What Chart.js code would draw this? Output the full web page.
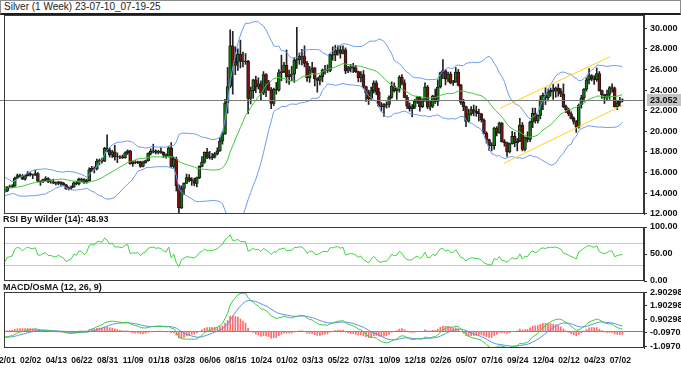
<!DOCTYPE html>
<html lang="en">
<head>
<meta charset="UTF-8">
<title>Silver (1 Week)</title>
<script src="https://cdn.jsdelivr.net/npm/chart.js@4.4.1/dist/chart.umd.min.js"></script>
<style>
    body { margin: 0; background: #fff; }
    #wrap { position: relative; width: 681px; height: 385px; overflow: hidden; background: #fff; }
    #head { position: absolute; left: 0; top: 0; width: 681px; height: 15px; box-sizing: border-box;
            border: 1px solid #8c8c8c; border-bottom: 2px solid #1e1e1e;
            font: 10px "Liberation Sans Narrow", "Liberation Sans", Arial, sans-serif; color: #222;
            line-height: 12px; padding-left: 3px; white-space: nowrap; }
    .lbl { position: absolute; left: 3px; font: bold 9px "Liberation Sans", Arial, sans-serif; color: #111;
           z-index: 2; white-space: nowrap; }
    canvas { position: absolute; left: 0; }
</style>
</head>
<body>
<div id="wrap">
    <div id="head">Silver (1 Week) 23-07-10_07-19-25</div>
    <canvas id="price" width="681" height="208" style="top:14px"></canvas>
    <div class="lbl" style="top:214px">RSI By Wilder (14): 48.93</div>
    <canvas id="rsi" width="681" height="66" style="top:222px"></canvas>
    <div class="lbl" style="top:282px">MACD/OsMA (12, 26, 9)</div>
    <canvas id="macd" width="681" height="98" style="top:287px"></canvas>
</div>

<script>
    // weekly candles, first one is the week of 2018-11-19, last one 2023-07-10
    var open = [
        14.40,14.20,14.18,14.55,14.62,14.70,15.45,15.70,15.62,15.35,
        15.70,15.90,15.80,15.75,15.90,15.15,15.12,15.30,15.40,15.10,
        15.10,15.00,14.95,15.10,14.95,14.80,14.40,14.50,14.60,15.00,
        14.90,15.35,15.30,15.00,15.20,16.25,16.40,16.35,17.10,17.20,
        17.10,18.35,18.15,17.70,18.00,17.50,17.55,17.50,17.45,17.90,
        18.10,16.85,17.00,16.95,17.05,16.60,16.95,17.15,17.85,18.05,
        18.10,17.95,18.05,17.95,17.70,17.55,18.40,16.60,17.30,14.70,
        12.55,14.45,14.95,15.50,15.30,15.20,14.95,15.50,16.60,17.00,
        17.95,17.50,17.45,17.55,17.80,18.10,19.05,19.75,22.75,24.35,
        28.30,26.40,26.70,27.50,26.85,26.75,26.80,23.20,23.95,25.00,
        24.30,24.60,23.70,25.50,24.75,24.00,22.70,24.10,24.00,25.70,
        25.80,26.40,25.30,25.50,25.55,26.90,26.95,27.30,27.25,26.60,
        25.20,25.95,26.15,25.10,24.95,25.30,25.95,26.00,25.90,27.45,
        27.40,27.80,27.90,27.55,27.90,25.85,26.10,26.25,26.15,25.80,
        25.20,25.50,24.35,23.75,23.15,23.95,24.70,23.80,22.45,22.40,
        22.65,22.60,23.30,24.40,23.95,24.10,25.25,24.70,23.30,22.45,
        22.20,22.35,22.90,23.30,22.40,22.95,24.30,22.35,22.45,23.45,
        22.90,24.30,25.70,25.90,25.05,25.55,24.70,24.80,25.75,24.45,
        22.80,22.40,20.95,21.70,22.10,21.95,21.80,21.70,21.10,19.80,
        19.20,18.65,18.60,20.30,19.85,20.80,19.00,18.90,18.00,18.80,
        19.50,18.90,19.05,20.60,18.25,19.40,19.20,20.90,21.75,21.00,
        21.55,23.05,23.50,23.25,23.80,24.00,23.90,24.20,23.90,23.60,
        22.40,22.10,21.70,21.25,20.95,20.40,22.55,23.25,24.10,25.00,
        25.40,25.10,25.00,25.60,23.95,23.55,23.30,23.60,24.25,24.15,
        22.40,22.75,22.95
    ];
    var high = [
        14.48,14.40,14.65,14.78,14.82,15.55,15.85,15.85,15.80,15.75,
        16.10,16.00,15.85,16.20,16.00,15.20,15.35,15.60,15.50,15.30,
        15.35,15.10,15.15,15.10,15.05,14.85,14.60,14.70,15.10,15.15,
        15.45,15.45,15.40,15.35,16.45,16.60,16.55,17.30,17.30,17.40,
        18.45,19.65,18.40,18.15,18.65,17.90,17.65,17.70,18.00,18.20,
        18.15,17.10,17.15,17.10,17.10,17.10,17.20,17.90,18.30,18.75,
        18.20,18.15,18.40,18.00,17.80,18.50,18.90,17.50,17.50,14.80,
        14.70,15.00,15.85,15.80,15.50,15.45,15.55,16.65,17.55,18.00,
        18.35,18.05,17.85,17.95,18.40,19.40,19.95,23.10,26.20,29.85,
        29.70,28.20,28.00,28.85,27.70,27.55,26.90,24.30,25.05,25.35,
        25.20,24.90,25.80,25.60,24.95,24.25,24.20,24.75,26.00,27.40,
        26.70,27.90,25.95,26.30,27.10,30.10,27.60,27.95,28.30,26.80,
        26.30,26.70,26.20,25.20,25.45,26.05,26.40,26.45,27.50,28.20,
        28.35,28.30,28.30,28.30,28.10,26.30,26.50,26.60,26.40,25.85,
        25.80,25.90,24.40,24.00,24.30,24.90,24.90,24.20,22.80,22.70,
        22.85,23.45,24.80,24.70,24.20,25.40,25.50,25.00,23.50,22.75,
        22.60,23.10,23.40,23.40,23.15,24.70,24.45,22.90,23.50,24.10,
        25.00,25.75,26.95,26.00,25.75,25.75,24.95,26.20,26.00,24.55,
        23.10,22.45,22.15,22.40,22.55,22.45,22.15,21.75,21.20,19.95,
        19.25,18.90,20.40,20.45,20.90,20.85,19.20,18.95,18.85,20.00,
        19.90,19.30,21.25,20.85,19.45,19.95,21.00,22.25,22.25,21.60,
        23.45,23.70,24.25,24.10,24.20,24.55,24.30,24.60,24.15,24.60,
        22.55,22.25,21.90,21.40,21.05,22.65,23.50,24.15,25.20,26.10,
        25.50,25.40,26.15,25.80,24.00,23.60,24.00,24.35,24.60,24.30,
        22.95,23.30,23.15
    ];
    var low = [
        14.10,14.05,14.15,14.50,14.50,14.65,15.40,15.55,15.30,15.25,
        15.65,15.65,15.40,15.70,15.10,14.75,15.00,15.20,15.00,14.95,
        14.90,14.80,14.80,14.75,14.75,14.35,14.30,14.35,14.55,14.80,
        14.80,15.10,14.95,14.95,15.15,16.10,15.95,16.25,16.75,16.90,
        17.05,18.00,17.50,17.45,17.20,16.95,17.35,17.35,17.40,17.75,
        16.80,16.60,16.85,16.85,16.50,16.55,16.90,17.10,17.70,17.90,
        17.80,17.80,17.85,17.45,17.40,17.50,16.50,16.40,14.20,11.64,
        12.50,13.85,14.95,15.10,14.75,14.70,14.60,15.40,16.55,16.90,
        17.35,17.30,17.25,17.40,17.70,18.05,18.75,19.70,21.75,24.20,
        23.60,25.50,25.90,26.15,26.25,26.50,21.70,22.65,23.20,23.75,
        24.10,23.00,23.55,23.35,23.95,22.20,22.50,23.60,23.90,24.90,
        25.70,24.70,24.55,24.90,24.75,26.10,26.50,26.45,26.25,24.85,
        24.75,25.70,24.40,23.80,24.50,24.80,25.55,25.70,25.80,26.90,
        26.85,27.40,27.10,27.50,25.60,25.70,25.75,25.70,25.70,24.80,
        24.80,24.20,22.90,22.60,23.10,23.70,23.55,22.40,21.95,21.45,
        22.25,22.35,23.20,23.80,23.10,23.80,24.50,23.25,22.20,21.95,
        21.40,22.20,22.70,21.95,22.30,22.90,22.20,22.05,22.30,22.70,
        22.50,24.20,25.10,24.50,24.80,24.60,24.45,24.75,24.40,22.60,
        22.00,20.45,20.90,21.55,21.50,21.45,21.00,20.90,19.75,18.85,
        18.15,18.10,18.25,19.55,19.80,18.95,18.55,17.55,17.90,18.75,
        18.50,18.10,19.00,18.10,18.10,18.95,19.00,20.35,20.80,20.80,
        21.20,22.10,22.60,22.95,23.40,23.10,23.30,23.40,23.35,22.30,
        21.80,21.50,21.20,20.70,19.90,20.30,22.25,22.90,23.90,24.60,
        24.90,24.55,24.85,23.90,23.20,22.70,23.00,23.10,23.80,22.35,
        22.10,22.40,22.85
    ];
    var close = [
        14.20,14.18,14.55,14.62,14.70,15.45,15.70,15.62,15.35,15.70,
        15.90,15.80,15.75,15.90,15.15,15.12,15.30,15.40,15.10,15.10,
        15.00,14.95,15.10,14.95,14.80,14.40,14.50,14.60,15.00,14.90,
        15.35,15.30,15.00,15.20,16.25,16.40,16.35,17.10,17.20,17.10,
        18.35,18.15,17.70,18.00,17.50,17.55,17.50,17.45,17.90,18.10,
        16.85,17.00,16.95,17.05,16.60,16.95,17.15,17.85,18.05,18.10,
        17.95,18.05,17.95,17.70,17.55,18.40,16.60,17.30,14.70,12.55,
        14.45,14.95,15.50,15.30,15.20,14.95,15.50,16.60,17.00,17.95,
        17.50,17.45,17.55,17.80,18.10,19.05,19.75,22.75,24.35,28.30,
        26.40,26.70,27.50,26.85,26.75,26.80,23.20,23.95,25.00,24.30,
        24.60,23.70,25.50,24.75,24.00,22.70,24.10,24.00,25.70,25.80,
        26.40,25.30,25.50,25.55,26.90,26.95,27.30,27.25,26.60,25.20,
        25.95,26.15,25.10,24.95,25.30,25.95,26.00,25.90,27.45,27.40,
        27.80,27.90,27.55,27.90,25.85,26.10,26.25,26.15,25.80,25.20,
        25.50,24.35,23.75,23.15,23.95,24.70,23.80,22.45,22.40,22.65,
        22.60,23.30,24.40,23.95,24.10,25.25,24.70,23.30,22.45,22.20,
        22.35,22.90,23.30,22.40,22.95,24.30,22.35,22.45,23.45,22.90,
        24.30,25.70,25.90,25.05,25.55,24.70,24.80,25.75,24.45,22.80,
        22.40,20.95,21.70,22.10,21.95,21.80,21.70,21.10,19.80,19.20,
        18.65,18.60,20.30,19.85,20.80,19.00,18.90,18.00,18.80,19.50,
        18.90,19.05,20.60,18.25,19.40,19.20,20.90,21.75,21.00,21.55,
        23.05,23.50,23.25,23.80,24.00,23.90,24.20,23.90,23.60,22.40,
        22.10,21.70,21.25,20.95,20.40,22.55,23.25,24.10,25.00,25.40,
        25.10,25.00,25.60,23.95,23.55,23.30,23.60,24.25,24.15,22.40,
        22.75,22.95,23.05
    ];
    // closes before the visible window, only used to start the indicators
    var warmupClose = [
        16.25,16.75,16.60,16.50,16.55,16.35,16.55,16.30,16.35,16.65,
        17.15,16.50,16.50,16.70,16.45,16.65,16.40,16.75,16.60,16.45,
        16.05,16.10,15.80,15.55,15.45,15.45,15.30,14.75,14.80,14.55,
        14.20,14.15,14.30,14.65,14.60,14.60,14.65,14.65,14.75,14.05,14.35
    ];

    var xTickLabels = ['12/01','02/02','04/13','06/22','08/31','11/09','01/18','03/28','06/06','08/15',
        '10/24','01/02','03/13','05/22','07/31','10/09','12/18','02/26','05/07','07/16',
        '09/24','12/04','02/12','04/23','07/02'];
    var priceTicks = [12, 14, 16, 18, 20, 22, 24, 26, 28, 30];
    var rsiTicks = [0, 50, 100];
    var rsiLevels = [70, 30];
    var macdTicks = [2.90298, 1.90298, 0.90298, -0.09702, -1.09702];
    var lastPrice = 23.052;

    // hand drawn channel (candle index, price)
    var channelUpperX = [194.3, 237.2], channelUpperY = [22.23, 27.24];
    var channelLowerX = [195.8, 242.2], channelLowerY = [16.89, 22.55];

    // ---- indicators from the closes ----
    var allClose = warmupClose.concat(close);
    var w = warmupClose.length;

    var bbMid = [], bbUp = [], bbLow = [];
    for (var i = 0; i < close.length; i++) {
        var win = allClose.slice(w + i - 19, w + i + 1);
        var m = 0;
        win.forEach(function (v) { m += v; });
        m = m / 20;
        var s = 0;
        win.forEach(function (v) { s += (v - m) * (v - m); });
        s = Math.sqrt(s / 20);
        bbMid.push(m); bbUp.push(m + 2 * s); bbLow.push(m - 2 * s);
    }

    var rsiAll = [null], ag = 0, al = 0;
    for (var j = 1; j < allClose.length; j++) {
        var d = allClose[j] - allClose[j - 1];
        var g = Math.max(d, 0), l = Math.max(-d, 0);
        if (j <= 14) { ag += g / 14; al += l / 14; }
        else { ag = (ag * 13 + g) / 14; al = (al * 13 + l) / 14; }
        rsiAll.push(al === 0 ? 100 : 100 - 100 / (1 + ag / al));
    }
    var rsi = rsiAll.slice(w);

    function ema(vals, n) {
        var k = 2 / (n + 1), out = [], prev = vals[0];
        for (var i = 0; i < vals.length; i++) {
            prev = i === 0 ? vals[0] : vals[i] * k + prev * (1 - k);
            out.push(prev);
        }
        return out;
    }
    var e12 = ema(allClose, 12), e26 = ema(allClose, 26);
    var macdAll = e12.map(function (v, i) { return v - e26[i]; });
    var sigAll = ema(macdAll, 9);
    var macd = macdAll.slice(w), signal = sigAll.slice(w);
    var osma = macd.map(function (v, i) { return v - signal[i]; });

    // ---- shared bits ----
    var xMin = 0.78, xMax = 250.43;
    var tickFont = { family: 'Liberation Sans', size: 9, weight: 'bold' };

    function pts(arr) { return arr.map(function (v, i) { return { x: i, y: v }; }); }
    function pairs(xs, ys) { return xs.map(function (v, i) { return { x: v, y: ys[i] }; }); }

    function rightAxis(min, max, ticks, digits) {
        return {
            position: 'right', min: min, max: max, beginAtZero: false,
            afterBuildTicks: function (s) { s.ticks = ticks.map(function (v) { return { value: v }; }); },
            afterFit: function (s) { s.width = 37; s.paddingTop = 0; s.paddingBottom = 0; },
            grid: { drawOnChartArea: false, drawTicks: true, tickLength: 3, color: '#333' },
            border: { display: true, color: '#333' },
            ticks: { padding: 3, font: tickFont, color: '#111',
                callback: function (v) { return Number(v).toFixed(digits); } }
        };
    }
    var hiddenX = { type: 'linear', min: xMin, max: xMax, offset: false, display: false };

    var boxPlugin = {
        id: 'box',
        afterDraw: function (chart) {
            var a = chart.chartArea, ctx = chart.ctx;
            ctx.save();
            ctx.strokeStyle = '#3a3a3a';
            ctx.lineWidth = 1;
            ctx.strokeRect(Math.round(a.left) + 0.5, Math.round(a.top) + 0.5,
                Math.round(a.right - a.left) - 1, Math.round(a.bottom - a.top) - 1);
            ctx.restore();
        }
    };
    function levelPlugin(values, color) {
        return {
            id: 'levels',
            beforeDatasetsDraw: function (chart) {
                var a = chart.chartArea, ctx = chart.ctx, y = chart.scales.y;
                ctx.save();
                ctx.strokeStyle = color;
                ctx.lineWidth = 1;
                values.forEach(function (v) {
                    var py = Math.round(y.getPixelForValue(v)) + 0.5;
                    ctx.beginPath(); ctx.moveTo(a.left, py); ctx.lineTo(a.right, py); ctx.stroke();
                });
                ctx.restore();
            }
        };
    }
    var lastPricePlugin = {
        id: 'lastPrice',
        afterDatasetsDraw: function (chart) {
            var a = chart.chartArea, ctx = chart.ctx;
            var py = Math.round(chart.scales.y.getPixelForValue(lastPrice)) + 0.5;
            ctx.save();
            ctx.strokeStyle = '#7a7a7a';
            ctx.lineWidth = 1;
            ctx.beginPath(); ctx.moveTo(0, py); ctx.lineTo(a.right, py); ctx.stroke();
            ctx.restore();
        },
        afterDraw: function (chart) {
            var a = chart.chartArea, ctx = chart.ctx;
            var py = Math.round(chart.scales.y.getPixelForValue(lastPrice));
            ctx.save();
            ctx.fillStyle = '#c4c4c4';
            ctx.fillRect(a.right + 3, py - 6, 40, 12);
            ctx.fillStyle = '#111';
            ctx.font = 'bold 9px "Liberation Sans"';
            ctx.textBaseline = 'middle';
            ctx.fillText(lastPrice.toFixed(3), a.right + 6, py + 0.5);
            ctx.restore();
        }
    };

    Chart.defaults.animation = false;
    Chart.defaults.plugins.legend.display = false;
    Chart.defaults.plugins.tooltip.enabled = false;
    Chart.defaults.events = [];

    // ---- price panel ----
    var wicks = close.map(function (c, i) { return { x: i, y: [low[i], high[i]] }; });
    var bodies = close.map(function (c, i) { return { x: i, y: [open[i], c] }; });
    var bodyColors = close.map(function (c, i) { return c >= open[i] ? '#0b820b' : '#8e0c0c'; });

    new Chart(document.getElementById('price'), {
        type: 'line',
        data: {
            datasets: [
                { type: 'bar', data: wicks, backgroundColor: '#222', barThickness: 1, grouped: false, order: 10 },
                { type: 'bar', data: bodies, backgroundColor: bodyColors, borderColor: '#1a1a1a', borderWidth: 1,
                  borderSkipped: false, barThickness: 3, grouped: false, order: 9 },
                { data: pts(bbUp), borderColor: '#6a9cf2', borderWidth: 1, pointRadius: 0, order: 2 },
                { data: pts(bbLow), borderColor: '#6a9cf2', borderWidth: 1, pointRadius: 0, order: 2 },
                { data: pts(bbMid), borderColor: '#3cc83c', borderWidth: 1, pointRadius: 0, order: 2 },
                { data: pairs(channelUpperX, channelUpperY), borderColor: '#ffd21e', borderWidth: 1, pointRadius: 0, order: 1 },
                { data: pairs(channelLowerX, channelLowerY), borderColor: '#ffd21e', borderWidth: 1, pointRadius: 0, order: 1 }
            ]
        },
        options: {
            responsive: false,
            devicePixelRatio: 1,
            layout: { padding: { left: 4, right: 0, top: 1, bottom: 8 } },
            scales: { x: hiddenX, y: rightAxis(11.97, 31.29, priceTicks, 3) }
        },
        plugins: [lastPricePlugin, boxPlugin]
    });

    // ---- RSI panel ----
    new Chart(document.getElementById('rsi'), {
        type: 'line',
        data: {
            datasets: [
                { data: pts(rsi), borderColor: '#3dd43d', borderWidth: 1, pointRadius: 0 }
            ]
        },
        options: {
            responsive: false,
            devicePixelRatio: 1,
            layout: { padding: { left: 4, right: 0, top: 5, bottom: 7 } },
            scales: { x: hiddenX, y: rightAxis(0, 100, rsiTicks, 2) }
        },
        plugins: [levelPlugin(rsiLevels, '#c6c6c6'), boxPlugin]
    });

    // ---- MACD panel ----
    new Chart(document.getElementById('macd'), {
        type: 'line',
        data: {
            datasets: [
                { type: 'bar', data: pts(osma), backgroundColor: '#ff6b6b', barThickness: 1, grouped: false, order: 5 },
                { data: pts(signal), borderColor: '#5a8ff0', borderWidth: 1, pointRadius: 0, order: 2 },
                { data: pts(macd), borderColor: '#3ccc3c', borderWidth: 1, pointRadius: 0, order: 1 }
            ]
        },
        options: {
            responsive: false,
            devicePixelRatio: 1,
            layout: { padding: { left: 4, right: 0, top: 5, bottom: 17 } },
            scales: {
                x: {
                    type: 'linear', min: xMin, max: xMax, offset: false, position: 'bottom',
                    grid: { display: false, drawTicks: false },
                    border: { display: false },
                    afterBuildTicks: function (s) {
                        s.ticks = xTickLabels.map(function (t, k) { return { value: k * 10 }; });
                    },
                    afterFit: function (s) { s.height = 20; s.paddingLeft = 0; s.paddingRight = 0; },
                    ticks: { autoSkip: false, maxRotation: 0, minRotation: 0, padding: 8, labelOffset: 3,
                        font: { family: 'Liberation Sans', size: 8.5, weight: 'bold' }, color: '#111',
                        callback: function (v) { return xTickLabels[Math.round(v / 10)]; } }
                },
                y: rightAxis(-1.24, 2.92, macdTicks, 6)
            }
        },
        plugins: [levelPlugin([0], '#7a7a7a'), boxPlugin]
    });
</script>
</body>
</html>
